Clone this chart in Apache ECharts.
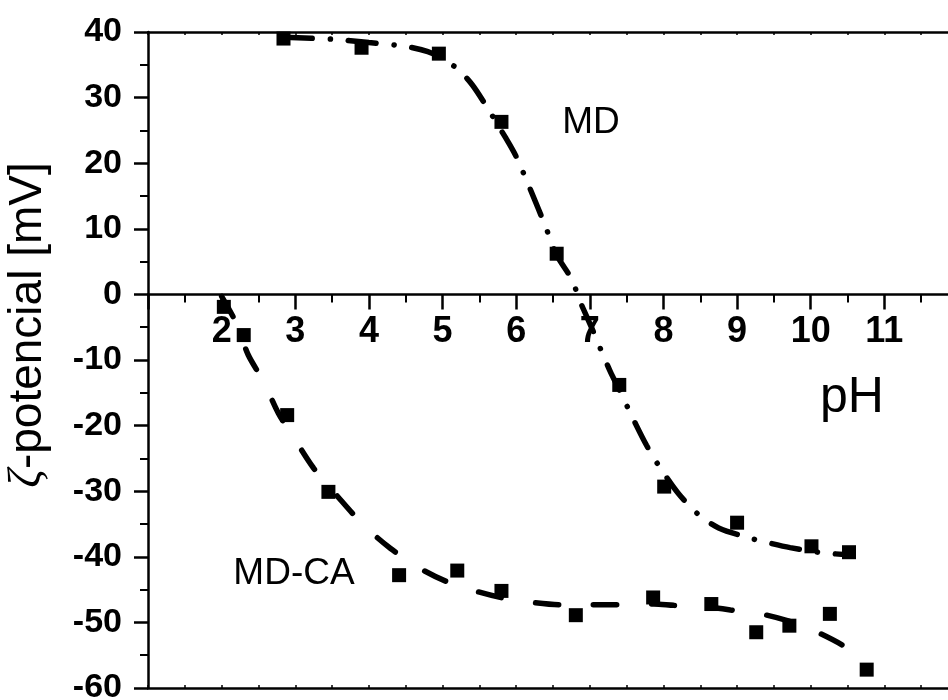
<!DOCTYPE html>
<html>
<head>
<meta charset="utf-8">
<script src="https://cdn.jsdelivr.net/npm/echarts@6/dist/echarts.min.js"></script>
<style>html,body{margin:0;padding:0;background:#fff}#c{width:948px;height:700px}</style>
</head>
<body>
<div id="c"></div>
<script>
// Measured data points (pH, zeta potential mV)
const mdPoints = [[2.84,39.0],[3.90,37.6],[4.95,36.7],[5.80,26.3],[6.55,6.2],[7.40,-13.8],[8.01,-29.3],[9.00,-34.8],[10.01,-38.4],[10.52,-39.3]];
const mdcaPoints = [[2.03,-1.9],[2.30,-6.2],[2.89,-18.4],[3.45,-30.1],[4.41,-42.8],[5.20,-42.1],[5.80,-45.2],[6.81,-48.9],[7.86,-46.2],[8.65,-47.2],[9.26,-51.5],[9.71,-50.5],[10.26,-48.7],[10.76,-57.2]];
// Fit curves
const mdFit = [[2.85,39.2],[3.5,38.9],[4.0,38.4],[4.5,37.8],[4.8,37.0],[5.0,35.9],[5.2,34.4],[5.4,32.0],[5.6,28.6],[5.85,24.0],[6.0,21.0],[6.2,15.8],[6.4,10.3],[6.55,6.0],[6.76,2.2],[6.85,-0.6],[7.03,-5.2],[7.16,-8.7],[7.28,-11.8],[7.39,-14.3],[7.62,-19.7],[7.77,-23.0],[7.93,-26.0],[8.2,-30.3],[8.48,-33.6],[8.75,-35.6],[9.16,-37.1],[9.44,-37.9],[9.72,-38.6],[10.1,-39.3],[10.5,-39.7]];
const mdcaFit = [[2.0,-0.3],[2.2,-4.4],[2.36,-9.2],[2.57,-13.3],[2.77,-18.1],[3.0,-22.2],[3.25,-26.5],[3.56,-30.6],[3.93,-35.2],[4.29,-38.7],[4.7,-41.8],[5.06,-43.8],[5.47,-45.3],[5.83,-46.3],[6.26,-47.0],[6.6,-47.3],[7.0,-47.3],[7.39,-47.3],[7.87,-47.2],[8.14,-47.4],[8.57,-47.6],[8.91,-48.1],[9.32,-48.7],[9.79,-50.1],[10.11,-51.6],[10.45,-53.6],[10.75,-56.0]];
const xTickLabels = ['2','3','4','5','6','7','8','9','10','11'];
const yTickLabels = ['-60','-50','-40','-30','-20','-10','0','10','20','30','40'];

const chart = echarts.init(document.getElementById('c'), null, {renderer:'canvas'});
const black = '#000';
const G = {left:148, top:32, width:810, height:656};
const yMin = -60, yMax = 40;
// offset moving the labelled x axis from the grid bottom up to y = 0
const zeroOffset = -G.height * (0 - yMin) / (yMax - yMin);
const borderAxis = (pos) => ({
  type:'value', min:1, max:12, interval:1, position:pos,
  axisLine:{show:true, onZero:false, lineStyle:{color:black, width:2.5}},
  axisTick:{show:true, inside:true, length:3, lineStyle:{color:black, width:1.5}},
  minorTick:{show:true, splitNumber:2, length:3, lineStyle:{color:black, width:1.5}},
  axisLabel:{show:false}, splitLine:{show:false}
});
chart.setOption({
  animation:false,
  backgroundColor:'#fff',
  grid:{left:G.left, top:G.top, width:G.width, height:G.height, containLabel:false, outerBoundsMode:'none'},
  xAxis:[
    {type:'value', min:1, max:12, interval:1, position:'bottom', offset:zeroOffset,
     axisLine:{show:true, onZero:false, lineStyle:{color:black, width:2.5}},
     axisTick:{show:true, inside:false, length:15, lineStyle:{color:black, width:2.5}},
     minorTick:{show:true, splitNumber:2, length:8, lineStyle:{color:black, width:2}},
     axisLabel:{show:true, margin:20, color:black, fontFamily:'Liberation Sans', fontWeight:'bold', fontSize:36,
       formatter:(v)=>{const s=String(v); return xTickLabels.indexOf(s)>=0 ? s : '';}},
     splitLine:{show:false}},
    borderAxis('bottom'),
    borderAxis('top')
  ],
  yAxis:[{type:'value', min:yMin, max:yMax, interval:10, position:'left',
    axisLine:{show:true, onZero:false, lineStyle:{color:black, width:2.5}},
    axisTick:{show:true, inside:false, length:14, lineStyle:{color:black, width:2.5}},
    minorTick:{show:true, splitNumber:2, length:8, lineStyle:{color:black, width:2}},
    axisLabel:{show:true, margin:26, color:black, fontFamily:'Liberation Sans', fontWeight:'bold', fontSize:34,
      formatter:(v)=>{const s=String(v); return yTickLabels.indexOf(s)>=0 ? s : '';}},
    splitLine:{show:false}}],
  series:[
    {type:'line', xAxisIndex:0, data:mdFit, showSymbol:false, smooth:0.3, z:3,
     lineStyle:{color:black, width:5.5, type:[28,18,0.1,18], cap:'round', opacity:1}},
    {type:'line', xAxisIndex:0, data:mdcaFit, showSymbol:false, smooth:0.3, z:3,
     lineStyle:{color:black, width:5.5, type:[23,35], cap:'round', opacity:1}},
    {type:'scatter', xAxisIndex:0, data:mdPoints, symbol:'rect', symbolSize:14, itemStyle:{color:black, opacity:1}, z:2},
    {type:'scatter', xAxisIndex:0, data:mdcaPoints, symbol:'rect', symbolSize:14, itemStyle:{color:black, opacity:1}, z:2}
  ],
  graphic:[
    {type:'text', x:591, y:123, style:{text:'MD', fill:black, font:'37px "Liberation Sans"', align:'center', verticalAlign:'middle'}},
    {type:'text', x:294, y:574, style:{text:'MD-CA', fill:black, font:'37px "Liberation Sans"', align:'center', verticalAlign:'middle'}},
    {type:'text', x:852, y:398, style:{text:'pH', fill:black, font:'50px "Liberation Sans"', align:'center', verticalAlign:'middle'}},
    {type:'text', x:28, y:325, rotation:Math.PI/2,
     style:{text:'{z|ζ}-potencial [mV]', fill:black, font:'46px "Liberation Sans"', align:'center', verticalAlign:'middle',
       rich:{z:{fontStyle:'italic', fontSize:46, fontFamily:'Liberation Serif', fill:black}}}}
  ]
});
</script>
</body>
</html>
